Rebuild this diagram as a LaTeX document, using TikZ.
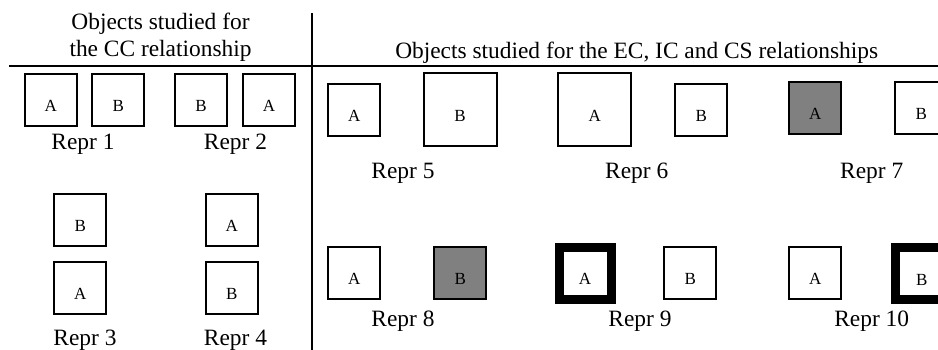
\documentclass[tikz,border=0pt]{standalone}
\usepackage{fontspec}
\setmainfont{Liberation Serif}
\begin{document}
\begin{tikzpicture}[x=1pt,y=-1pt,
  caption/.style={font=\fontsize{23.4}{27}\selectfont,inner sep=0pt,anchor=base},
  heading/.style={font=\fontsize{23.4}{27}\selectfont,inner sep=0pt,align=center,anchor=base},
  obj/.style={draw=black,line width=2pt,fill=white,minimum size=52pt,inner sep=0pt,
    font=\fontsize{17}{20}\selectfont,text height=23pt,text depth=0pt},
  bigobj/.style={obj,minimum size=73pt},
  shaded/.style={obj,fill=black!50},
  thickobj/.style={obj,line width=9pt},
  divider/.style={line width=2pt}]
\useasboundingbox (0,0) rectangle (938,349);
\clip (0,0) rectangle (938,349);

% dividing lines
\coordinate (vtop) at (311.7,13);
\coordinate (vbot) at (311.7,352);
\coordinate (hleft) at (9,65.7);
\coordinate (hright) at (941,65.7);
\draw[divider] (vtop) -- (vbot);
\draw[divider] (hleft) -- (hright);

% headings
\node[heading] (tl1) at (160.5,29.3) {Objects studied for};
\node[heading] (tl2) at (160.5,56) {the CC relationship};
\node[heading] (tr) at (636.7,58.3) {Objects studied for the EC, IC and CS relationships};

% CC objects
\node[obj] (r1a) at (50.7,99.7) {A};
\node[obj] (r1b) at (118.3,99.7) {B};
\node[caption] (c1) at (83,149) {Repr 1};
\node[obj] (r2b) at (201,99.7) {B};
\node[obj] (r2a) at (269,99.7) {A};
\node[caption] (c2) at (235.5,149) {Repr 2};
\node[obj] (r3b) at (80.3,220) {B};
\node[obj] (r3a) at (80.3,288.3) {A};
\node[caption] (c3) at (85,345) {Repr 3};
\node[obj] (r4a) at (231.7,220) {A};
\node[obj] (r4b) at (231.7,288.3) {B};
\node[caption] (c4) at (235.5,345) {Repr 4};

% EC, IC and CS objects, first row
\node[obj] (r5a) at (354.2,110.3) {A};
\node[bigobj] (r5b) at (460,109.8) {B};
\node[caption] (c5) at (403,178.3) {Repr 5};
\node[bigobj] (r6a) at (594.8,109.8) {A};
\node[obj] (r6b) at (701.3,110.3) {B};
\node[caption] (c6) at (636.7,178.3) {Repr 6};
\node[shaded] (r7a) at (815.3,107.5) {A};
\node[obj] (r7b) at (921.3,107.5) {B};
\node[caption] (c7) at (871.7,178.3) {Repr 7};

% second row
\node[obj] (r8a) at (354.2,273.3) {A};
\node[shaded] (r8b) at (460.3,273.3) {B};
\node[caption] (c8) at (403,326.7) {Repr 8};
\node[thickobj] (r9a) at (585,273.1) {A};
\node[obj] (r9b) at (690.3,273.3) {B};
\node[caption] (c9) at (640,326.7) {Repr 9};
\node[obj] (r10a) at (815.3,273.3) {A};
\node[thickobj] (r10b) at (921.8,273.5) {B};
\node[caption] (c10) at (871.7,326.7) {Repr 10};
\end{tikzpicture}
\end{document}
